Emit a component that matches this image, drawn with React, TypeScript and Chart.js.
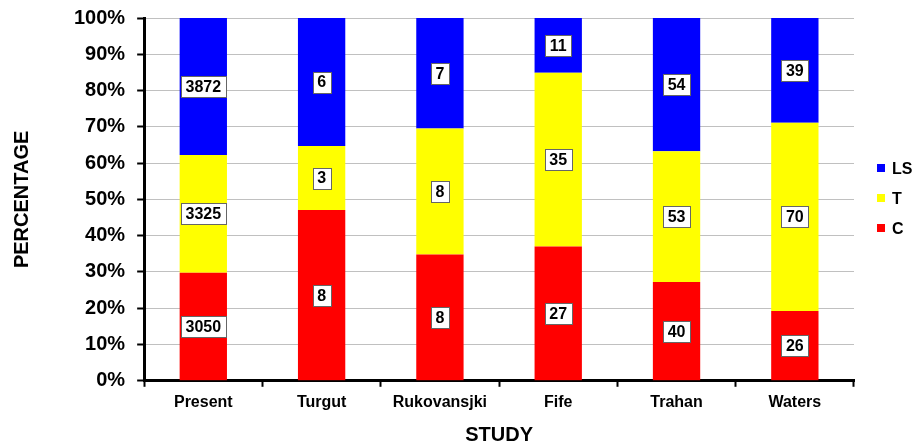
import React, { useEffect, useRef } from "react";
import { Chart, registerables } from "chart.js";

Chart.register(...registerables);

const categories = ["Present", "Turgut", "Rukovansjki", "Fife", "Trahan", "Waters"];
const seriesNames = ["C", "T", "LS"];
const cCounts = [3050, 8, 8, 27, 40, 26];
const tCounts = [3325, 3, 8, 35, 53, 70];
const lsCounts = [3872, 6, 7, 11, 54, 39];
const seriesColors = ["#FF0000", "#FFFF00", "#0000FF"];
const yTicks = [0, 10, 20, 30, 40, 50, 60, 70, 80, 90, 100];

const FONT = "'Liberation Sans', Arial, sans-serif";

export default function App() {
  const ref = useRef<HTMLCanvasElement | null>(null);

  useEffect(() => {
    if (!ref.current) return;
    const counts = [cCounts, tCounts, lsCounts];
    const totals = categories.map((_, i) => counts.reduce((s, arr) => s + arr[i], 0));
    const datasets = counts.map((arr, k) => ({
      label: seriesNames[k],
      data: arr.map((v, i) => (v / totals[i]) * 100),
      counts: arr,
      backgroundColor: seriesColors[k],
      borderWidth: 0,
      barPercentage: 0.4,
      categoryPercentage: 1,
    }));

    const labelPlugin = {
      id: "boxLabels",
      afterDatasetsDraw(chart: any) {
        const ctx = chart.ctx;
        ctx.save();
        ctx.font = `bold 16px ${FONT}`;
        ctx.textAlign = "center";
        ctx.textBaseline = "middle";
        chart.data.datasets.forEach((ds: any, di: number) => {
          const meta = chart.getDatasetMeta(di);
          meta.data.forEach((bar: any, i: number) => {
            const text = String(ds.counts[i]);
            const cx = bar.x;
            const cy = (bar.y + bar.base) / 2;
            const w = Math.round(ctx.measureText(text).width + 9);
            const h = 21;
            const x0 = Math.round(cx - w / 2) + 0.5;
            const y0 = Math.round(cy - h / 2) + 0.5;
            ctx.fillStyle = "#ffffff";
            ctx.fillRect(x0, y0, w, h);
            ctx.strokeStyle = "#666666";
            ctx.lineWidth = 1;
            ctx.strokeRect(x0, y0, w, h);
            ctx.fillStyle = "#000000";
            ctx.fillText(text, cx, cy + 1);
          });
        });
        ctx.restore();
      },
    };

    const legendPlugin = {
      id: "sideLegend",
      afterDraw(chart: any) {
        const ctx = chart.ctx;
        const area = chart.chartArea;
        const midY = (area.top + area.bottom) / 2 - 1;
        const gap = 30;
        const order = [2, 1, 0];
        ctx.save();
        ctx.font = `bold 16px ${FONT}`;
        ctx.textAlign = "left";
        ctx.textBaseline = "middle";
        order.forEach((di, row) => {
          const cy = midY + (row - 1) * gap;
          ctx.fillStyle = seriesColors[di];
          ctx.fillRect(area.right + 23, Math.round(cy - 4), 8, 8);
          ctx.fillStyle = "#000";
          ctx.fillText(seriesNames[di], area.right + 38, cy + 1);
        });
        ctx.restore();
      },
    };

    const chart = new Chart(ref.current, {
      type: "bar",
      data: { labels: categories, datasets: datasets as any },
      plugins: [labelPlugin, legendPlugin],
      options: {
        animation: false,
        responsive: false,
        maintainAspectRatio: false,
        layout: { padding: { top: 18, left: 8, right: 68, bottom: 1 } },
        plugins: {
          tooltip: { enabled: false },
          legend: { display: false },
        },
        scales: {
          x: {
            stacked: true,
            offset: true,
            grid: {
              display: true,
              offset: true,
              drawOnChartArea: false,
              drawTicks: true,
              tickLength: 6,
              tickColor: "#000",
              tickWidth: 2,
            },
            border: { display: true, color: "#000", width: 3 },
            ticks: {
              color: "#000",
              padding: 6,
              font: { family: FONT, size: 16, weight: "bold" },
            },
            title: {
              display: true,
              text: "STUDY",
              color: "#000",
              padding: { top: 5, bottom: 0 },
              font: { family: FONT, size: 20, weight: "bold" },
            },
          },
          y: {
            stacked: true,
            min: 0,
            max: 100,
            afterBuildTicks(axis: any) {
              axis.ticks = yTicks.map((v) => ({ value: v }));
            },
            afterFit(scale: any) {
              scale.paddingTop = 0;
            },
            grid: {
              color: "#c0c0c0",
              lineWidth: 1,
              tickLength: 7,
              tickColor: "#000",
              tickWidth: 2,
            },
            border: { display: true, color: "#000", width: 3 },
            ticks: {
              color: "#000",
              padding: 12,
              font: { family: FONT, size: 20, weight: "bold" },
              callback: (v: any) => `${v}%`,
            },
            title: {
              display: true,
              text: "PERCENTAGE",
              color: "#000",
              padding: { top: 2, bottom: 28 },
              font: { family: FONT, size: 20, weight: "bold" },
            },
          },
        },
      },
    });
    return () => chart.destroy();
  }, []);

  return (
    <div style={{ position: "fixed", left: 0, top: 0, width: 922, height: 448, background: "#fff" }}>
      <canvas ref={ref} width={922} height={448} style={{ width: 922, height: 448 }} />
    </div>
  );
}
